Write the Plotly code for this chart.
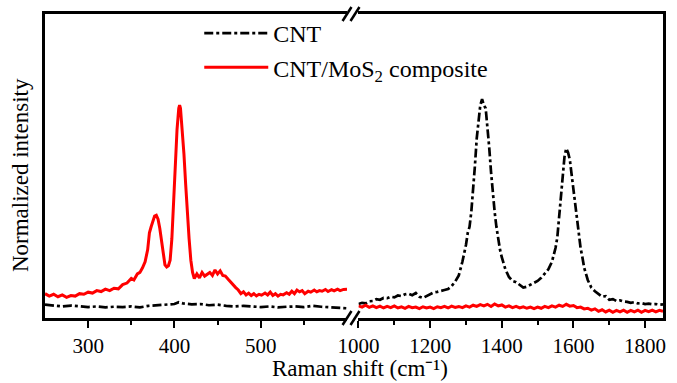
import plotly.graph_objects as go

# ---------------- data (normalized intensity) ----------------
# Left segment (250-600 cm^-1)
composite_left_x = [250, 255, 260, 265, 270, 275, 280, 285, 290, 295, 300, 305, 310, 315, 320, 325, 330, 335,
                    340, 345, 350, 353, 357, 360, 363, 366, 369, 371, 373, 375, 377, 379, 381, 383, 385, 387,
                    389, 391, 393, 395, 397, 399, 401, 403, 405, 406, 407, 409, 411, 413, 415, 417, 419, 421,
                    423, 426, 429, 432, 435, 438, 441, 444, 447, 450, 453, 456, 459, 462, 465, 468, 471, 474,
                    477, 480, 483, 486, 489, 492, 495, 498, 501, 505, 508, 511, 514, 517, 520, 523, 526, 530,
                    533, 536, 539, 542, 545, 548, 551, 555, 558, 562, 565, 568, 571, 575, 578, 582, 585, 589,
                    592, 596, 600]
composite_left_y = [0.080, 0.072, 0.078, 0.070, 0.076, 0.068, 0.074, 0.072, 0.080, 0.078, 0.085, 0.082, 0.090,
                    0.087, 0.095, 0.090, 0.098, 0.096, 0.110, 0.115, 0.130, 0.125, 0.145, 0.150, 0.165, 0.185,
                    0.225, 0.280, 0.300, 0.318, 0.335, 0.338, 0.325, 0.295, 0.250, 0.205, 0.175, 0.168, 0.172,
                    0.190, 0.260, 0.380, 0.520, 0.620, 0.690, 0.700, 0.690, 0.620, 0.540, 0.440, 0.340, 0.260,
                    0.190, 0.150, 0.130, 0.145, 0.132, 0.150, 0.138, 0.145, 0.150, 0.140, 0.158, 0.145, 0.155,
                    0.140, 0.138, 0.128, 0.118, 0.110, 0.100, 0.092, 0.080, 0.086, 0.076, 0.082, 0.074, 0.080,
                    0.073, 0.078, 0.075, 0.082, 0.076, 0.085, 0.074, 0.080, 0.072, 0.078, 0.076, 0.083, 0.078,
                    0.088, 0.080, 0.092, 0.086, 0.090, 0.080, 0.088, 0.085, 0.092, 0.086, 0.090, 0.088, 0.094,
                    0.087, 0.093, 0.089, 0.095, 0.090, 0.094, 0.095]

cnt_left_x = [250, 260, 270, 280, 290, 300, 310, 320, 330, 340, 350, 360, 370, 380, 390, 400, 405, 410, 420,
              430, 440, 450, 460, 470, 480, 490, 500, 510, 520, 530, 540, 550, 560, 570, 580, 590, 600]
cnt_left_y = [0.044, 0.040, 0.038, 0.041, 0.039, 0.036, 0.038, 0.035, 0.037, 0.036, 0.038, 0.035, 0.040,
              0.042, 0.044, 0.046, 0.052, 0.048, 0.045, 0.046, 0.042, 0.044, 0.040, 0.038, 0.040, 0.037,
              0.036, 0.038, 0.035, 0.037, 0.038, 0.036, 0.040, 0.037, 0.036, 0.034, 0.032]

# Right segment (1000-1850 cm^-1)
cnt_right_x = [1000, 1010, 1020, 1030, 1040, 1050, 1060, 1070, 1080, 1090, 1100, 1110, 1120, 1130, 1140, 1150,
               1160, 1170, 1180, 1190, 1200, 1210, 1220, 1230, 1240, 1250, 1260, 1270, 1280, 1290, 1300, 1305,
               1310, 1315, 1320, 1325, 1330, 1335, 1340, 1345, 1350, 1355, 1360, 1365, 1370, 1375, 1380, 1385,
               1390, 1395, 1400, 1410, 1420, 1430, 1440, 1450, 1460, 1470, 1480, 1490, 1500, 1510, 1520, 1530,
               1540, 1550, 1555, 1560, 1565, 1570, 1575, 1580, 1585, 1590, 1595, 1600, 1605, 1610, 1615, 1620,
               1625, 1630, 1640, 1650, 1660, 1670, 1680, 1690, 1700, 1710, 1720, 1730, 1740, 1750, 1760, 1770,
               1780, 1790, 1800, 1810, 1820, 1830, 1840, 1850]
cnt_right_y = [0.046, 0.050, 0.048, 0.055, 0.056, 0.062, 0.060, 0.066, 0.065, 0.070, 0.068, 0.074, 0.072,
               0.078, 0.080, 0.075, 0.082, 0.070, 0.066, 0.072, 0.080, 0.084, 0.086, 0.090, 0.092, 0.095,
               0.105, 0.120, 0.140, 0.185, 0.240, 0.280, 0.300, 0.350, 0.420, 0.500, 0.590, 0.650, 0.700,
               0.720, 0.700, 0.690, 0.630, 0.560, 0.480, 0.410, 0.350, 0.300, 0.260, 0.225, 0.200, 0.160,
               0.135, 0.122, 0.118, 0.108, 0.100, 0.103, 0.110, 0.115, 0.122, 0.132, 0.145, 0.160, 0.185,
               0.230, 0.265, 0.330, 0.400, 0.470, 0.530, 0.558, 0.545, 0.520, 0.470, 0.410, 0.360, 0.310,
               0.270, 0.230, 0.200, 0.165, 0.125, 0.100, 0.088, 0.080, 0.070, 0.072, 0.060, 0.062, 0.056,
               0.058, 0.054, 0.053, 0.050, 0.052, 0.048, 0.049, 0.046, 0.047, 0.045, 0.046, 0.044, 0.045]

composite_right_x = [1000, 1010, 1020, 1030, 1040, 1050, 1060, 1070, 1080, 1090, 1100, 1110, 1120, 1130, 1140,
                     1150, 1160, 1170, 1180, 1190, 1200, 1210, 1220, 1230, 1240, 1250, 1260, 1270, 1280, 1290,
                     1300, 1310, 1320, 1330, 1340, 1350, 1360, 1370, 1380, 1390, 1400, 1410, 1420, 1430, 1440,
                     1450, 1460, 1470, 1480, 1490, 1500, 1510, 1520, 1530, 1540, 1550, 1560, 1570, 1580, 1590,
                     1600, 1610, 1620, 1630, 1640, 1650, 1660, 1670, 1680, 1690, 1700, 1710, 1720, 1730, 1740,
                     1750, 1760, 1770, 1780, 1790, 1800, 1810, 1820, 1830, 1840, 1850]
composite_right_y = [0.040, 0.036, 0.042, 0.035, 0.040, 0.034, 0.039, 0.033, 0.038, 0.034, 0.040, 0.033, 0.037,
                     0.032, 0.038, 0.034, 0.036, 0.031, 0.037, 0.033, 0.036, 0.031, 0.037, 0.034, 0.038, 0.033,
                     0.039, 0.035, 0.038, 0.034, 0.040, 0.036, 0.042, 0.038, 0.044, 0.040, 0.045, 0.038, 0.046,
                     0.040, 0.043, 0.036, 0.040, 0.034, 0.038, 0.033, 0.037, 0.032, 0.036, 0.031, 0.036, 0.032,
                     0.038, 0.034, 0.040, 0.036, 0.042, 0.038, 0.045, 0.039, 0.041, 0.034, 0.036, 0.030, 0.032,
                     0.026, 0.030, 0.022, 0.027, 0.020, 0.026, 0.019, 0.025, 0.020, 0.026, 0.019, 0.025, 0.020,
                     0.026, 0.019, 0.025, 0.021, 0.026, 0.020, 0.025, 0.022]

left_ticks = [300, 400, 500]
left_minor = [350, 450, 550]
right_ticks = [1000, 1200, 1400, 1600, 1800]
right_minor = [1100, 1300, 1500, 1700]

series_names = ["CNT", "CNT/MoS<sub>2</sub> composite"]

# ---------------- figure ----------------
FONT = "Liberation Serif"
BLACK_LINE = dict(color="black", width=2.7, dash="dashdot")
RED_LINE = dict(color="#ff0000", width=3)

fig = go.Figure()
fig.add_trace(go.Scatter(x=cnt_left_x, y=cnt_left_y, mode="lines", line=BLACK_LINE,
                         name=series_names[0], legendgroup="cnt", xaxis="x", yaxis="y"))
fig.add_trace(go.Scatter(x=composite_left_x, y=composite_left_y, mode="lines", line=RED_LINE,
                         name=series_names[1], legendgroup="comp", xaxis="x", yaxis="y"))
fig.add_trace(go.Scatter(x=cnt_right_x, y=cnt_right_y, mode="lines", line=BLACK_LINE,
                         name=series_names[0], legendgroup="cnt", showlegend=False, xaxis="x2", yaxis="y2"))
fig.add_trace(go.Scatter(x=composite_right_x, y=composite_right_y, mode="lines", line=RED_LINE,
                         name=series_names[1], legendgroup="comp", showlegend=False, xaxis="x2", yaxis="y2"))

L, R, T, B = 45, 11, 14, 65
W, H = 677, 383
pw, ph = W - L - R, H - T - B

def px_x(p):
    return (p - L) / pw

def px_y(p):
    return (H - B - p) / ph

axis_common = dict(showline=True, linecolor="black", linewidth=2.5, mirror=True,
                   ticks="outside", ticklen=7, tickwidth=2, tickcolor="black",
                   showgrid=False, zeroline=False,
                   tickfont=dict(family=FONT, size=21, color="black"))

fig.update_layout(
    width=W, height=H,
    margin=dict(l=L, r=R, t=T, b=B),
    paper_bgcolor="white", plot_bgcolor="white",
    font=dict(family=FONT, size=24, color="black"),
    xaxis=dict(domain=[0, px_x(348.5)], range=[250, 600], tickmode="array", tickvals=left_ticks,
               minor=dict(tickmode="array", tickvals=left_minor, ticks="outside", ticklen=4,
                          tickwidth=2, tickcolor="black", showgrid=False),
               anchor="y", **axis_common),
    xaxis2=dict(domain=[px_x(360), 1], range=[1000, 1850], tickmode="array", tickvals=right_ticks,
                minor=dict(tickmode="array", tickvals=right_minor, ticks="outside", ticklen=4,
                           tickwidth=2, tickcolor="black", showgrid=False),
                anchor="y2", **axis_common),
    yaxis=dict(range=[0, 1], showline=True, linecolor="black", linewidth=2.5, showticklabels=False,
               ticks="", showgrid=False, zeroline=False, anchor="x"),
    yaxis2=dict(range=[0, 1], matches="y", showline=True, linecolor="black", linewidth=2.5,
                showticklabels=False, ticks="", showgrid=False, zeroline=False, anchor="x2",
                side="right"),
    legend=dict(x=px_x(200), y=px_y(11), xanchor="left", yanchor="top",
                bgcolor="rgba(0,0,0,0)", font=dict(family=FONT, size=24, color="black"),
                tracegroupgap=0, itemwidth=64),
    showlegend=True,
)

# axis titles
fig.add_annotation(text="Raman shift (cm\u207b\u00b9)", xref="paper", yref="paper",
                   x=px_x(362), y=px_y(369), xanchor="center", yanchor="middle", showarrow=False,
                   font=dict(family=FONT, size=23, color="black"))
fig.add_annotation(text="Normalized intensity", xref="paper", yref="paper",
                   x=px_x(20), y=px_y(175), xanchor="center", yanchor="middle", showarrow=False,
                   textangle=-90, font=dict(family=FONT, size=23, color="black"))

# axis break marks (top and bottom)
for yc in (H - B, T):
    for x0 in (344, 352):
        fig.add_shape(type="line", xref="paper", yref="paper",
                      x0=px_x(x0), y0=px_y(yc + 7), x1=px_x(x0 + 9), y1=px_y(yc - 7),
                      line=dict(color="black", width=2.5))

fig.write_html("out.html", config={"displayModeBar": False},
               post_script="document.body.style.margin='0';document.body.style.overflow='hidden';")
